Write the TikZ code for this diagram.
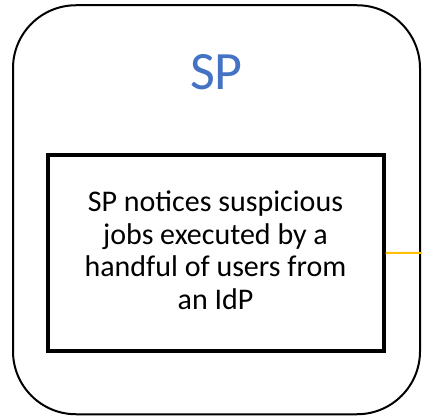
\documentclass[tikz,border=0pt]{standalone}
\usepackage{fontspec}
\setmainfont{Carlito}
\definecolor{spblue}{HTML}{4472C4}
\definecolor{linkyellow}{HTML}{FFC000}
\begin{document}
\begin{tikzpicture}[x=1pt,y=-1pt,
  provider/.style={draw=black,line width=2pt,rounded corners=63pt,
    minimum width=407pt,minimum height=409pt,inner sep=0pt},
  eventbox/.style={draw=black,line width=4pt,
    minimum width=336pt,minimum height=195.5pt,inner sep=0pt},
  eventtext/.style={align=center,inner sep=0pt,
    font=\fontsize{30pt}{32.5pt}\selectfont},
  title/.style={font=\fontsize{54pt}{60pt}\selectfont,text=spblue,inner sep=0pt},
  link/.style={draw=linkyellow,line width=2pt}]
\useasboundingbox (0,0) rectangle (422,419);
\node[provider] (sp) at (216.5,209.75) {};
\node[title,anchor=base] (sptitle) at (216.5,90) {SP};
\node[eventbox] (notice) at (215.5,252.75) {};
\node[eventtext] (noticetext) at (215.5,250)
  {SP notices suspicious\\jobs executed by a\\handful of users from\\an IdP};
\coordinate (exit) at (422,253);
\draw[link] (notice.east) -- (exit);
\end{tikzpicture}
\end{document}
